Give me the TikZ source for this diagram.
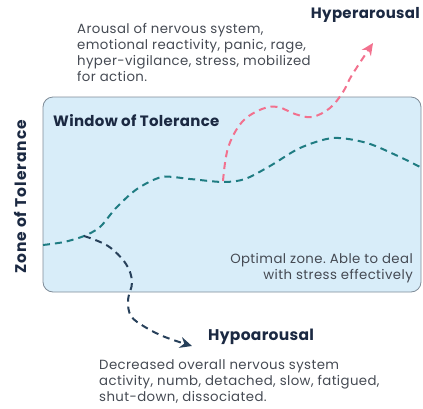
\documentclass[tikz,border=0pt]{standalone}
\usepackage{fontspec}
\setmainfont{Poppins}
\newfontfamily\bodyfont[LetterSpace=3]{Poppins}
\newfontfamily\headfont[LetterSpace=2]{Poppins}
\newfontfamily\sidefont[LetterSpace=6]{Poppins}
\usetikzlibrary{arrows.meta}
\frenchspacing
\definecolor{boxfill}{HTML}{D8EDF9}
\definecolor{boxline}{HTML}{7F8C98}
\definecolor{titleink}{HTML}{1B2942}
\definecolor{bodyink}{HTML}{454A53}
\definecolor{tealline}{HTML}{1F7C82}
\definecolor{pinkline}{HTML}{F2718E}
\definecolor{navyline}{HTML}{27405A}
\tikzset{
  title/.style={font=\headfont\fontsize{15}{17}\selectfont\bfseries, text=titleink, inner sep=0pt},
  body/.style={font=\bodyfont\fontsize{13.3}{16}\selectfont, text=bodyink, inner sep=0pt, align=left},
  wave/.style={line width=2pt, dash pattern=on 7pt off 5pt},
  tip/.style={-{Stealth[length=12pt,width=11pt]}}
}
\begin{document}
\begin{tikzpicture}[x=1pt,y=-1pt]
  \useasboundingbox (0,0) rectangle (423,408);
  % the window itself
  \draw[boxline, fill=boxfill, line width=0.8pt, rounded corners=10pt]
    (43,97) rectangle (421,292);
  % side label
  \node[title, rotate=90, font=\sidefont\fontsize{15.5}{17}\selectfont\bfseries] (zone) at (20,197) {Zone of Tolerance};
  \node[title, anchor=west] (window) at (53,121) {Window of Tolerance};
  \node[title, anchor=east] (hyper) at (420,15) {Hyperarousal};
  \node[title, anchor=west, font=\headfont\fontsize{15.5}{17}\selectfont\bfseries] (hypo) at (208,337) {Hypoarousal};
  % descriptions
  \node[body, anchor=north west] (hypertext) at (77,23)
    {Arousal of nervous system,\\emotional reactivity, panic, rage,\\hyper-vigilance, stress, mobilized\\for action.};
  \node[body, anchor=north east, align=right] (optimal) at (413,253)
    {Optimal zone. Able to deal\\with stress effectively};
  \node[body, anchor=north west] (hypotext) at (99,359)
    {Decreased overall nervous system\\activity, numb, detached, slow, fatigued,\\shut-down, dissociated.};
  % path points
  \coordinate (start) at (43,245);
  \coordinate (split) at (84,236);
  \coordinate (rise) at (223,181);
  \coordinate (upper) at (373,43);
  \coordinate (lower) at (192,346);
  \coordinate (finish) at (422,168);
  % regulated wave inside the window
  \draw[wave, tealline] plot[smooth, tension=0.5] coordinates
    {(start) (64,242) (split) (100,227) (116,208) (137,189) (162,177) (190,179) (223,182) (245,179) (270,166) (300,148) (333,138) (367,143) (400,157) (finish)};
  % escape upwards
  \draw[wave, pinkline, tip] plot[smooth, tension=0.6] coordinates
    {(rise) (228,148) (242,122) (262,109) (278,107) (295,114) (312,117) (330,108) (343,92) (352,75) (upper)};
  % escape downwards
  \draw[wave, navyline, tip] plot[smooth, tension=0.6] coordinates
    {(split) (108,246) (126,264) (132,282) (128,300) (131,316) (145,327) (165,337) (lower)};
\end{tikzpicture}
\end{document}
